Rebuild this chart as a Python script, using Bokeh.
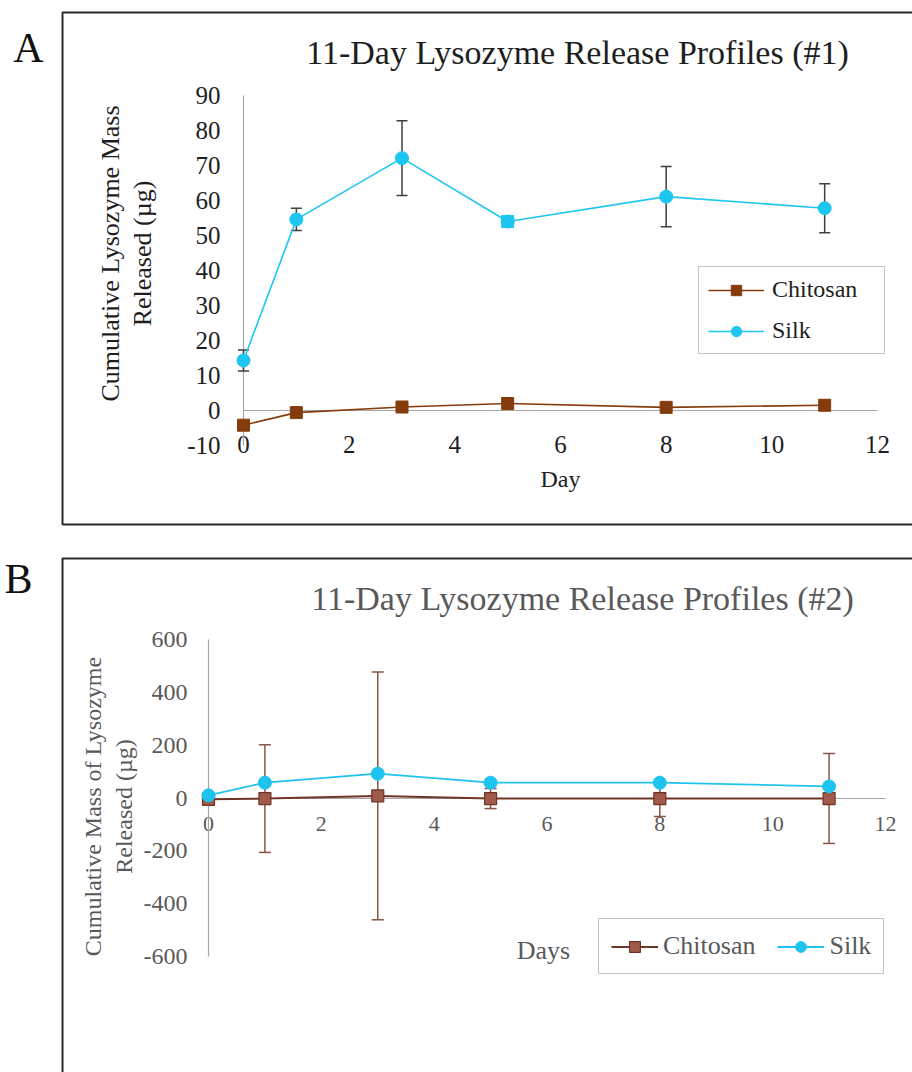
import math
from bokeh.plotting import figure
from bokeh.models import (ColumnDataSource, Range1d, LinearAxis, FixedTicker, Whisker, TeeHead,
                          Legend, LegendItem, Label, BoxAnnotation, CDSView, IndexFilter)
from bokeh.layouts import column
from bokeh.embed import file_html
from bokeh.resources import INLINE

# ---------------- data ----------------
days = [0, 1, 3, 5, 8, 11]

chitosan_a = [-4.2, -0.6, 1.0, 2.0, 0.9, 1.5]
silk_a = [14.3, 54.6, 72.1, 54.0, 61.1, 57.8]
silk_a_err = [3.0, 3.2, 10.7, 1.0, 8.6, 7.0]

chitosan_b = [-5, -2, 8, -2, -2, -2]
chitosan_b_err = [10, 204, 469, 38, 68, 170]
silk_b = [10, 58, 92, 58, 58, 44]

x_ticks = [0, 2, 4, 6, 8, 10, 12]
y_ticks_a = [-10, 0, 10, 20, 30, 40, 50, 60, 70, 80, 90]
y_tick_labels_a = ["-10", "0", "10", "20", "30", "40", "50", "60", "70", "80", "90"]
y_ticks_b = [-600, -400, -200, 0, 200, 400, 600]
y_tick_labels_b = ["-600", "-400", "-200", "0", "200", "400", "600"]

series_names = ["Chitosan", "Silk"]
title_a = "11-Day Lysozyme Release Profiles (#1)"
title_b = "11-Day Lysozyme Release Profiles (#2)"
ylabel_a = ["Cumulative Lysozyme Mass", "Released (\u00b5g)"]
ylabel_b = ["Cumulative Mass of Lysozyme", "Released (\u00b5g)"]
xlabel_a = "Day"
xlabel_b = "Days"

# ---------------- style ----------------
SERIF = "Liberation Serif"
BROWN_A = "#843C0C"
CYAN_A = "#1DC6F1"
BROWN_B_FILL = "#A05A4A"
BROWN_B_LINE = "#6E3526"
BROWN_B_ERR = "#8A5545"
CYAN_B = "#1FC3EF"
AXIS_GRAY = "#A6A6A6"
DARK = "#1E1E1E"
GRAY_TXT = "#595959"
FRAME_COL = "#2A2A2A"
W = 912


def x_range_for(px0, px12):
    k = 12.0 / (px12 - px0)
    return Range1d(-px0 * k, 12 + (W - px12) * k)


def y_range_for(py_lo, v_lo, py_hi, v_hi, h):
    k = (v_hi - v_lo) / (py_lo - py_hi)  # value per pixel
    return Range1d(v_lo - (h - py_lo) * k, v_hi + py_hi * k)


def style_axis(ax, color, size, standoff, line_color=AXIS_GRAY):
    ax.major_tick_line_color = None
    ax.minor_tick_line_color = None
    ax.major_tick_out = 0
    ax.major_tick_in = 0
    ax.minor_tick_out = 0
    ax.major_label_text_font = SERIF
    ax.major_label_text_font_size = size
    ax.major_label_text_color = color
    ax.major_label_standoff = standoff
    ax.axis_line_color = line_color
    ax.axis_line_width = 1.2
    ax.level = "underlay"


def add_text(p, h, px, py, text, size, color, angle=0.0):
    p.add_layout(Label(x=px, y=h - py, x_units="screen", y_units="screen", text=text,
                       text_font=SERIF, text_font_size=size, text_color=color,
                       text_align="center", text_baseline="middle", angle=angle))


def base_fig(h, xr, yr):
    p = figure(width=W, height=h, x_range=xr, y_range=yr, x_axis_type=None, y_axis_type=None,
               output_backend="svg", toolbar_location=None, title=None,
               min_border_left=0, min_border_right=0, min_border_top=0, min_border_bottom=0)
    p.outline_line_color = None
    p.background_fill_color = "white"
    p.border_fill_color = "white"
    return p


def panel_box(p, top, bottom):
    p.add_layout(BoxAnnotation(left=62, right=W + 40, top=top, bottom=bottom,
                               left_units="screen", right_units="screen",
                               top_units="screen", bottom_units="screen",
                               fill_color=None, fill_alpha=0, line_color=FRAME_COL,
                               line_alpha=1.0, line_width=2))


# ================= Panel A (canvas y 0..HA) =================
HA = 541
pa = base_fig(HA, x_range_for(243, 877), y_range_for(445, -10, 95, 90, HA))

src_a = ColumnDataSource(dict(
    day=days, chitosan=chitosan_a, silk=silk_a,
    silk_hi=[v + e for v, e in zip(silk_a, silk_a_err)],
    silk_lo=[v - e for v, e in zip(silk_a, silk_a_err)],
))

xa = LinearAxis(ticker=FixedTicker(ticks=x_ticks), fixed_location=-10, bounds=(0, 12))
style_axis(xa, DARK, "25px", -10, None)
pa.add_layout(xa, "below")

x0a = LinearAxis(ticker=FixedTicker(ticks=[]), fixed_location=0, bounds=(0, 12))
style_axis(x0a, DARK, "10px", 0)
pa.add_layout(x0a, "below")

ya = LinearAxis(ticker=FixedTicker(ticks=y_ticks_a), fixed_location=0, bounds=(-10, 90),
                major_label_overrides=dict(zip(y_ticks_a, y_tick_labels_a)))
style_axis(ya, DARK, "25px", 23)
pa.add_layout(ya, "left")

wa = Whisker(source=src_a, base="day", upper="silk_hi", lower="silk_lo", dimension="height",
             line_color="#3F3F3F", line_width=1.5,
             upper_head=TeeHead(size=11, line_color="#3F3F3F", line_width=1.5),
             lower_head=TeeHead(size=11, line_color="#3F3F3F", line_width=1.5))
pa.add_layout(wa)

lca = pa.line("day", "chitosan", source=src_a, line_color=BROWN_A, line_width=1.6)
mca = pa.scatter("day", "chitosan", source=src_a, marker="square", size=12,
                 fill_color=BROWN_A, line_color=BROWN_A)
lsa = pa.line("day", "silk", source=src_a, line_color=CYAN_A, line_width=1.6)
msa = pa.scatter("day", "silk", source=src_a, marker="circle", size=13,
                 fill_color=CYAN_A, line_color=CYAN_A)
pa.scatter("day", "silk", source=src_a, view=CDSView(filter=IndexFilter([3])), marker="square",
           size=12, fill_color=CYAN_A, line_color=CYAN_A)

leg_a = Legend(items=[LegendItem(label=series_names[0], renderers=[lca, mca]),
                      LegendItem(label=series_names[1], renderers=[lsa, msa])],
               location=(698, HA - 354), orientation="vertical", margin=0,
               padding=9, spacing=14, glyph_width=56, glyph_height=26, label_height=26,
               label_width=103, label_standoff=8,
               label_text_font=SERIF, label_text_font_size="24px", label_text_color=DARK,
               border_line_color="#8C8C8C", border_line_width=1.5,
               background_fill_color="white", background_fill_alpha=1.0)
pa.add_layout(leg_a)

add_text(pa, HA, 577, 52, title_a, "34px", DARK)
add_text(pa, HA, 28, 47, "A", "42px", "#111111")
add_text(pa, HA, 110, 253, ylabel_a[0], "26px", DARK, math.pi / 2)
add_text(pa, HA, 142, 253, ylabel_a[1], "26px", DARK, math.pi / 2)
add_text(pa, HA, 560, 478, xlabel_a, "24px", DARK)
panel_box(pa, HA - 12, HA - 524)

# ================= Panel B (canvas y HA..1072) =================
TOPB = HA
HB = 1072 - TOPB
pb = base_fig(HB, x_range_for(208, 885), y_range_for(956 - TOPB, -600, 639 - TOPB, 600, HB))

src_b = ColumnDataSource(dict(
    day=days, chitosan=chitosan_b, silk=silk_b,
    chit_hi=[v + e for v, e in zip(chitosan_b, chitosan_b_err)],
    chit_lo=[v - e for v, e in zip(chitosan_b, chitosan_b_err)],
))

xb = LinearAxis(ticker=FixedTicker(ticks=x_ticks), fixed_location=0, bounds=(0, 12))
style_axis(xb, GRAY_TXT, "22px", 19)
pb.add_layout(xb, "below")

yb = LinearAxis(ticker=FixedTicker(ticks=y_ticks_b), fixed_location=0, bounds=(-600, 600),
                major_label_overrides=dict(zip(y_ticks_b, y_tick_labels_b)))
style_axis(yb, GRAY_TXT, "24px", 21)
pb.add_layout(yb, "left")

wb = Whisker(source=src_b, base="day", upper="chit_hi", lower="chit_lo", dimension="height",
             line_color=BROWN_B_ERR, line_width=1.5,
             upper_head=TeeHead(size=12, line_color=BROWN_B_ERR, line_width=1.5),
             lower_head=TeeHead(size=12, line_color=BROWN_B_ERR, line_width=1.5))
pb.add_layout(wb)

lcb = pb.line("day", "chitosan", source=src_b, line_color=BROWN_B_LINE, line_width=2)
mcb = pb.scatter("day", "chitosan", source=src_b, marker="square", size=12,
                 fill_color=BROWN_B_FILL, line_color=BROWN_B_LINE, line_width=1.2)
lsb = pb.line("day", "silk", source=src_b, line_color=CYAN_B, line_width=1.8)
msb = pb.scatter("day", "silk", source=src_b, marker="circle", size=13,
                 fill_color=CYAN_B, line_color=CYAN_B)

leg_b = Legend(items=[LegendItem(label=series_names[0], renderers=[lcb, mcb]),
                      LegendItem(label=series_names[1], renderers=[lsb, msb])],
               location=(598, HB - (974 - TOPB)), orientation="horizontal", margin=0,
               padding=12, spacing=22, glyph_width=47, glyph_height=27, label_height=27,
               label_standoff=5,
               label_text_font=SERIF, label_text_font_size="26px", label_text_color=GRAY_TXT,
               border_line_color="#8C8C8C", border_line_width=1.5,
               background_fill_color="white", background_fill_alpha=1.0)
pb.add_layout(leg_b)

add_text(pb, HB, 582, 598 - TOPB, title_b, "34px", GRAY_TXT)
add_text(pb, HB, 18, 578 - TOPB, "B", "42px", "#111111")
add_text(pb, HB, 92, 806 - TOPB, ylabel_b[0], "24px", GRAY_TXT, math.pi / 2)
add_text(pb, HB, 123, 806 - TOPB, ylabel_b[1], "24px", GRAY_TXT, math.pi / 2)
add_text(pb, HB, 543, 950 - TOPB, xlabel_b, "26px", GRAY_TXT)
panel_box(pb, HB - (558 - TOPB), -100)

layout = column(pa, pb, spacing=0)
open("out.html", "w").write(file_html(layout, INLINE))
